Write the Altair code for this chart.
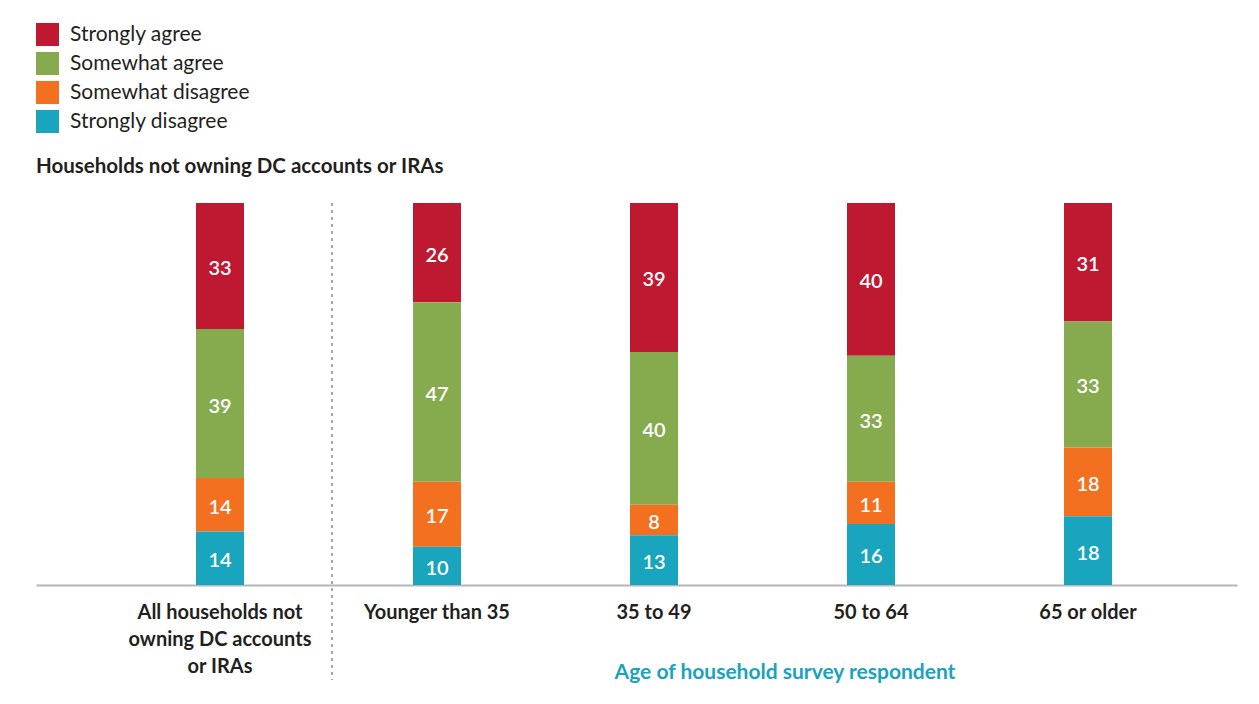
import altair as alt
import pandas as pd

groups = [
    "All households not owning DC accounts or IRAs",
    "Younger than 35",
    "35 to 49",
    "50 to 64",
    "65 or older",
]
responses = ["Strongly agree", "Somewhat agree", "Somewhat disagree", "Strongly disagree"]
strongly_agree = [33, 26, 39, 40, 31]
somewhat_agree = [39, 47, 40, 33, 33]
somewhat_disagree = [14, 17, 8, 11, 18]
strongly_disagree = [14, 10, 13, 16, 18]
colors = ["#be1931", "#86ab4f", "#f37021", "#1aa5bf"]
title_text = "Households not owning DC accounts or IRAs"
axis_title = "Age of household survey respondent"

series = [strongly_agree, somewhat_agree, somewhat_disagree, strongly_disagree]
rows = []
for ri, (resp, vals) in enumerate(zip(responses, series)):
    for g, v in zip(groups, vals):
        rows.append({"group": g, "response": resp, "value": v, "order": 3 - ri})
df = pd.DataFrame(rows)

FONT = "Lato"
TXT = "#231f20"

x_enc = alt.X(
    "group:N",
    sort=groups,
    scale=alt.Scale(paddingInner=0.7788, paddingOuter=0.6567, align=0.5614),
    axis=alt.Axis(
        title=axis_title,
        titleX=748.5,
        titleY=87,
        titleAlign="center",
        titleBaseline="middle",
        titleColor="#1aa3bd",
        titleFontSize=21,
        titleFontWeight="bold",
        titleFont=FONT,
        labelAngle=0,
        labelAlign="center",
        labelFont=FONT,
        labelFontSize=20,
        labelFontWeight="bold",
        labelColor=TXT,
        labelLineHeight=27,
        labelPadding=27,
        labelBaseline="middle",
        labelLimit=400,
        labelExpr="datum.value == 'All households not owning DC accounts or IRAs' ? ['All households not', 'owning DC accounts', 'or IRAs'] : datum.label",
        ticks=False,
        tickSize=0,
        domainColor="#b5b5b5",
        domainWidth=2,
        grid=False,
    ),
)

base = alt.Chart(df)

bars = base.mark_bar(size=48).encode(
    x=x_enc,
    y=alt.Y("value:Q", stack="zero", scale=alt.Scale(domain=[0, 100], nice=False), axis=None),
    color=alt.Color(
        "response:N",
        scale=alt.Scale(domain=responses, range=colors),
        legend=alt.Legend(
            title=None,
            orient="none",
            legendX=0,
            legendY=-180,
            symbolType="square",
            symbolSize=529,
            symbolStrokeWidth=0,
            symbolOpacity=1,
            labelFont=FONT,
            labelFontSize=21,
            labelColor=TXT,
            labelOffset=11,
            labelLimit=400,
            rowPadding=6,
        ),
    ),
    order=alt.Order("order:Q"),
)

labels = base.transform_stack(
    stack="value", groupby=["group"], sort=[alt.SortField("order")], as_=["v0", "v1"]
).transform_calculate(mid="(datum.v0 + datum.v1) / 2").mark_text(
    color="white", font=FONT, fontSize=20, fontWeight=600, baseline="middle", dy=3
).encode(
    x=alt.X("group:N", sort=groups),
    y=alt.Y("mid:Q"),
    text=alt.Text("value:Q"),
)

sep_df = pd.DataFrame({"group": [groups[0]]})
sep = alt.Chart(sep_df).mark_rule(
    xOffset=112, strokeDash=[3, 4], color="#aaaaaa", strokeWidth=2
).encode(
    x=alt.X("group:N", sort=groups),
    y=alt.value(0),
    y2=alt.value(477),
)

title_df = pd.DataFrame({"t": [title_text]})
title = alt.Chart(title_df).mark_text(
    align="left", baseline="middle", font=FONT, fontSize=20.5, fontWeight="bold", color=TXT
).encode(text="t:N", x=alt.value(0), y=alt.value(-36))

chart = alt.layer(sep, bars, labels, title).properties(
    width=1201,
    height=382,
    autosize=alt.AutoSizeParams(type="none"),
    padding={"left": 28, "top": 195, "right": 10, "bottom": 100},
    background="white",
).configure_view(strokeWidth=0)

chart.save("out.html", embed_options={"renderer": "svg", "actions": False})
